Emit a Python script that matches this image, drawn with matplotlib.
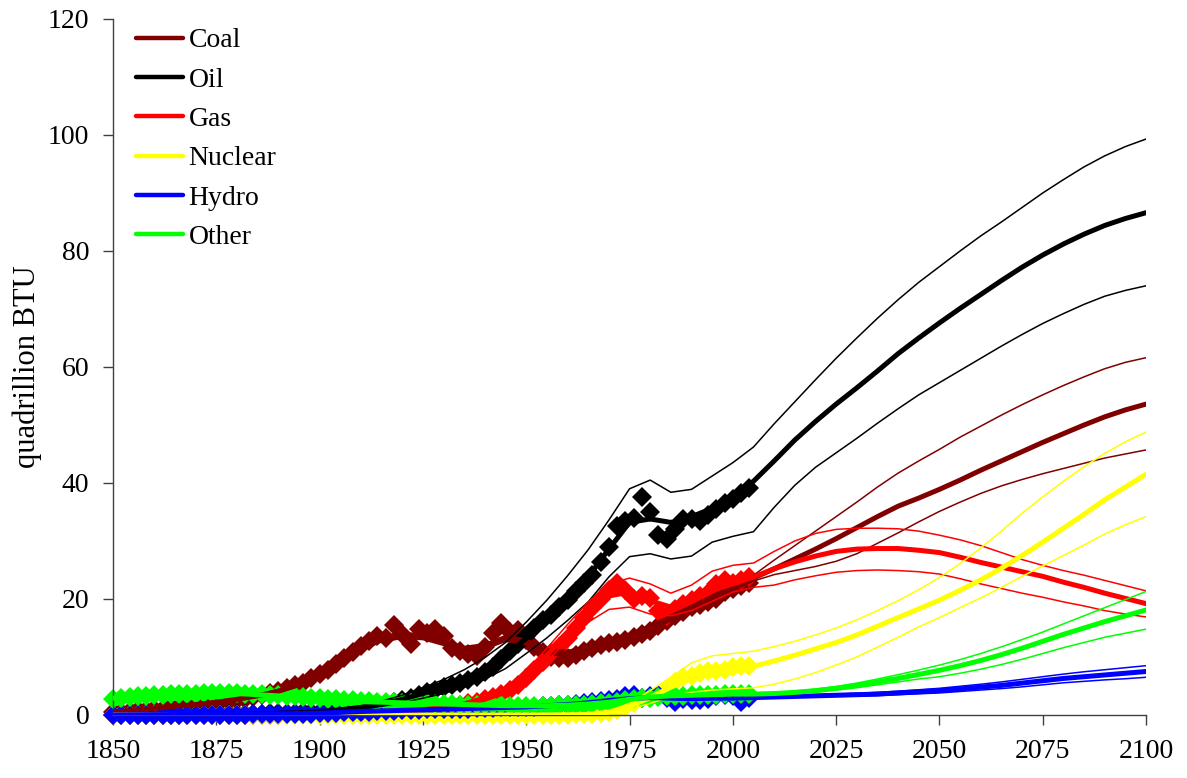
import matplotlib
matplotlib.use("Agg")
import matplotlib.pyplot as plt

plt.rcParams['font.family'] = ['Liberation Serif', 'DejaVu Serif']

# ---------------- data ----------------
model_years = list(range(1850, 2101, 5))
data_years = list(range(1850, 2005, 2))

coal_c = [0.5, 0.8, 1.1, 1.5, 1.8, 2.2, 2.7, 3.3, 4.1, 5.3,
          7.0, 9.3, 11.6, 13.1, 13.7, 13.5, 12.5, 11.3, 11.8, 13.2,
          12.6, 10.9, 10.6, 11.5, 12.5, 13.6, 15.0, 16.7, 18.4, 20.2,
          21.9, 23.6, 25.2, 26.9, 28.6, 30.4, 32.3, 34.2, 36.0, 37.4,
          38.9, 40.5, 42.2, 43.8, 45.4, 47.0, 48.5, 50.0, 51.4, 52.6, 53.6]
coal_h = [0.6, 0.9, 1.2, 1.6, 2.0, 2.4, 2.9, 3.5, 4.4, 5.7,
          7.5, 9.8, 12.1, 13.6, 14.2, 14.0, 13.0, 11.8, 12.3, 13.7,
          13.1, 11.4, 11.1, 12.0, 13.0, 14.1, 15.5, 17.2, 18.9, 20.7,
          22.4, 24.1, 26.7, 29.2, 31.7, 34.2, 36.7, 39.3, 41.7, 43.8,
          45.8, 47.9, 49.8, 51.7, 53.5, 55.2, 56.8, 58.3, 59.7, 60.8, 61.6]
coal_l = [0.4, 0.7, 1.0, 1.4, 1.7, 2.0, 2.5, 3.1, 3.8, 4.9,
          6.5, 8.8, 11.1, 12.6, 13.2, 13.0, 12.0, 10.8, 11.3, 12.7,
          12.1, 10.4, 10.1, 11.0, 12.0, 13.1, 14.5, 16.2, 17.9, 19.7,
          21.4, 23.1, 24.2, 24.9, 25.6, 26.5, 27.8, 29.6, 31.4, 33.3,
          35.1, 36.7, 38.2, 39.5, 40.6, 41.6, 42.5, 43.4, 44.3, 45.0, 45.7]

oil_c = [0.0, 0.0, 0.0, 0.05, 0.1, 0.1, 0.15, 0.2, 0.3, 0.4,
         0.6, 0.9, 1.3, 1.9, 2.7, 3.7, 4.8, 6.2, 8.0, 10.2,
         13.2, 16.4, 20.0, 23.8, 28.6, 33.2, 33.8, 33.2, 34.2, 35.6,
         37.8, 40.3, 43.8, 47.4, 50.6, 53.6, 56.4, 59.3, 62.3, 65.0,
         67.6, 70.1, 72.5, 74.9, 77.2, 79.3, 81.2, 82.9, 84.4, 85.6, 86.6]
oil_h = [0.0, 0.0, 0.0, 0.05, 0.1, 0.1, 0.2, 0.25, 0.35, 0.5,
         0.7, 1.1, 1.6, 2.4, 3.4, 4.7, 6.1, 7.8, 9.9, 12.5,
         16.0, 19.8, 24.0, 28.5, 33.6, 39.0, 40.5, 38.4, 38.9, 41.2,
         43.5, 46.2, 50.2, 54.0, 57.8, 61.5, 65.0, 68.4, 71.6, 74.6,
         77.3, 80.0, 82.6, 85.0, 87.5, 90.0, 92.3, 94.5, 96.4, 98.0, 99.3]
oil_l = [0.0, 0.0, 0.0, 0.05, 0.1, 0.1, 0.1, 0.15, 0.25, 0.3,
         0.5, 0.7, 1.0, 1.5, 2.1, 2.9, 3.7, 4.8, 6.2, 8.0,
         10.6, 13.3, 16.3, 19.5, 23.8, 27.3, 27.8, 26.9, 27.4, 29.8,
         30.8, 31.6, 35.8, 39.6, 42.7, 45.2, 47.7, 50.3, 52.8, 55.2,
         57.3, 59.4, 61.5, 63.6, 65.6, 67.5, 69.2, 70.8, 72.2, 73.2, 74.0]

gas_c = [0, 0, 0, 0, 0, 0, 0, 0, 0.05, 0.1,
         0.15, 0.2, 0.3, 0.45, 0.65, 0.9, 1.3, 1.9, 2.8, 4.2,
         6.6, 10.3, 14.2, 17.8, 20.5, 21.2, 19.7, 18.6, 19.6, 21.5,
         22.6, 23.8, 25.2, 26.4, 27.4, 28.2, 28.6, 28.7, 28.7, 28.4,
         28.0, 27.2, 26.3, 25.5, 24.7, 23.9, 22.9, 22.0, 21.0, 20.1, 19.2]
gas_h = [0, 0, 0, 0, 0, 0, 0, 0, 0.05, 0.1,
         0.2, 0.25, 0.35, 0.5, 0.75, 1.0, 1.5, 2.2, 3.2, 4.8,
         7.5, 11.5, 15.6, 19.5, 22.6, 23.6, 22.6, 21.0, 22.4, 24.8,
         25.8, 26.2, 28.2, 30.0, 31.3, 32.0, 32.2, 32.2, 32.1, 31.7,
         31.0, 30.2, 29.2, 28.0, 26.8, 25.8, 24.9, 24.1, 23.2, 22.3, 21.4]
gas_l = [0, 0, 0, 0, 0, 0, 0, 0, 0.05, 0.1,
         0.1, 0.15, 0.25, 0.4, 0.55, 0.8, 1.1, 1.6, 2.4, 3.6,
         5.8, 9.2, 13.0, 16.0, 18.2, 18.6, 17.4, 17.1, 18.0, 19.6,
         21.2, 22.0, 22.4, 23.3, 24.0, 24.6, 24.9, 25.0, 24.9, 24.7,
         24.3, 23.5, 22.6, 21.8, 21.0, 20.3, 19.5, 18.8, 18.0, 17.4, 16.9]

nuc_c = [0] * 20 + [0, 0, 0.02, 0.1, 0.5, 1.5, 3.0, 4.8, 6.3, 7.3,
                    7.9, 8.4, 9.3, 10.3, 11.4, 12.5, 13.8, 15.3, 16.8, 18.3,
                    19.8, 21.5, 23.3, 25.3, 27.5, 29.8, 32.2, 34.6, 37.1, 39.3, 41.5]
nuc_h = [0] * 20 + [0, 0, 0.05, 0.2, 0.7, 2.0, 4.2, 6.5, 9.0, 10.2,
                    10.6, 11.0, 11.8, 12.7, 13.8, 15.0, 16.4, 18.0, 19.7, 21.6,
                    23.7, 26.1, 28.8, 31.7, 34.8, 37.6, 40.3, 42.8, 45.1, 47.1, 48.8]
nuc_l = [0] * 20 + [0, 0, 0.0, 0.05, 0.3, 1.0, 2.0, 3.2, 3.9, 4.3,
                    4.5, 4.7, 5.3, 6.2, 7.3, 8.6, 10.0, 11.7, 13.4, 15.2,
                    16.8, 18.5, 20.2, 22.0, 23.9, 25.7, 27.5, 29.3, 31.2, 32.8, 34.2]

hyd_c = [0.0, 0.03, 0.05, 0.08, 0.1, 0.13, 0.15, 0.18, 0.2, 0.25,
         0.3, 0.45, 0.6, 0.7, 0.8, 0.9, 1.0, 1.1, 1.2, 1.3,
         1.4, 1.6, 1.8, 2.1, 2.5, 2.8, 3.0, 2.9, 2.8, 2.9,
         2.9, 3.0, 3.1, 3.2, 3.3, 3.4, 3.5, 3.6, 3.8, 4.0,
         4.2, 4.5, 4.8, 5.1, 5.5, 5.9, 6.3, 6.6, 6.9, 7.2, 7.5]
hyd_h = [0.0, 0.05, 0.1, 0.12, 0.15, 0.18, 0.2, 0.23, 0.25, 0.3,
         0.35, 0.5, 0.65, 0.8, 0.9, 1.0, 1.1, 1.2, 1.3, 1.4,
         1.5, 1.7, 1.9, 2.2, 2.6, 2.9, 3.1, 3.0, 2.9, 3.0,
         3.0, 3.1, 3.2, 3.35, 3.5, 3.6, 3.75, 3.9, 4.1, 4.35,
         4.6, 4.95, 5.3, 5.7, 6.15, 6.6, 7.05, 7.45, 7.8, 8.15, 8.5]
hyd_l = [0.0, 0.0, 0.03, 0.05, 0.07, 0.1, 0.12, 0.14, 0.16, 0.2,
         0.25, 0.4, 0.55, 0.6, 0.7, 0.8, 0.9, 1.0, 1.1, 1.2,
         1.3, 1.5, 1.7, 2.0, 2.4, 2.7, 2.9, 2.8, 2.7, 2.8,
         2.8, 2.9, 3.0, 3.05, 3.1, 3.2, 3.25, 3.35, 3.5, 3.65,
         3.8, 4.05, 4.3, 4.55, 4.85, 5.2, 5.55, 5.8, 6.05, 6.25, 6.5]

oth_c = [2.9, 3.2, 3.4, 3.6, 3.7, 3.8, 3.7, 3.5, 3.3, 3.0,
         2.7, 2.5, 2.3, 2.2, 2.1, 2.0, 1.9, 1.8, 1.7, 1.6,
         1.6, 1.6, 1.7, 1.9, 2.2, 2.7, 3.1, 3.3, 3.4, 3.5,
         3.6, 3.6, 3.7, 3.9, 4.2, 4.6, 5.1, 5.7, 6.3, 7.0,
         7.7, 8.5, 9.4, 10.4, 11.5, 12.7, 13.9, 15.0, 16.1, 17.1, 18.1]
oth_h = [3.0, 3.3, 3.5, 3.7, 3.8, 3.9, 3.8, 3.6, 3.4, 3.1,
         2.8, 2.6, 2.4, 2.3, 2.2, 2.1, 2.0, 1.9, 1.8, 1.7,
         1.7, 1.7, 1.8, 2.0, 2.3, 2.8, 3.2, 3.4, 3.5, 3.6,
         3.7, 3.7, 3.85, 4.1, 4.45, 4.9, 5.5, 6.2, 6.95, 7.75,
         8.6, 9.55, 10.6, 11.75, 13.0, 14.3, 15.7, 17.1, 18.5, 19.9, 21.3]
oth_l = [2.8, 3.1, 3.3, 3.5, 3.6, 3.7, 3.6, 3.4, 3.2, 2.9,
         2.6, 2.4, 2.2, 2.1, 2.0, 1.9, 1.8, 1.7, 1.6, 1.5,
         1.5, 1.5, 1.6, 1.8, 2.1, 2.6, 3.0, 3.2, 3.3, 3.4,
         3.5, 3.5, 3.55, 3.7, 3.95, 4.3, 4.7, 5.2, 5.7, 6.2,
         6.6, 7.2, 7.9, 8.7, 9.6, 10.6, 11.6, 12.5, 13.4, 14.1, 14.8]

# historical observations, every 2 years 1850-2004
coal_obs = [0.5, 0.6, 0.7, 0.8, 0.9, 1.0, 1.1, 1.3, 1.4, 1.6, 1.7,
            1.8, 2.0, 2.2, 2.4, 2.6, 2.8, 3.1, 3.4, 3.8, 4.2,
            4.6, 5.1, 5.6, 6.3, 7.1, 7.8, 8.8, 9.8, 10.8, 11.9,
            12.8, 13.6, 13.3, 15.6, 14.0, 12.2, 14.9, 14.2, 14.8, 13.6,
            11.6, 11.0, 10.5, 10.2, 11.8, 14.2, 15.8, 14.3, 14.6, 13.0,
            11.8, 10.8, 10.0, 9.8, 9.9, 10.4, 11.0, 11.6, 12.0, 12.4,
            12.6, 13.0, 13.4, 14.0, 14.5, 15.3, 16.2, 17.0, 17.8, 18.6,
            19.0, 19.5, 20.0, 21.2, 21.8, 22.3, 22.8]
oil_obs = [0, 0, 0, 0, 0, 0.02, 0.05, 0.05, 0.08, 0.1, 0.1,
           0.1, 0.1, 0.12, 0.15, 0.15, 0.2, 0.2, 0.25, 0.3, 0.3,
           0.35, 0.4, 0.45, 0.5, 0.55, 0.65, 0.75, 0.9, 1.0, 1.1,
           1.3, 1.5, 1.8, 2.2, 2.6, 3.0, 3.4, 3.9, 4.3, 4.8,
           5.1, 5.5, 6.0, 6.6, 7.4, 8.2, 9.6, 11.0, 12.2, 13.6,
           15.0, 16.3, 17.2, 18.6, 19.8, 21.4, 22.8, 24.2, 26.4, 29.0,
           32.5, 33.5, 34.0, 37.5, 35.0, 31.0, 30.4, 32.0, 33.8, 33.8,
           33.5, 34.5, 35.5, 36.5, 37.2, 38.2, 39.2]
gas_obs = [0] * 21 + [
           0.1, 0.1, 0.1, 0.1, 0.15, 0.15, 0.2, 0.2, 0.25, 0.3,
           0.35, 0.4, 0.45, 0.5, 0.6, 0.7, 0.8, 0.9, 1.1, 1.3,
           1.5, 1.7, 2.0, 2.3, 2.7, 3.1, 3.7, 4.3, 5.2, 6.3,
           7.8, 9.2, 10.7, 11.8, 13.3, 15.0, 16.8, 18.5, 20.0, 21.5,
           22.8, 21.5, 20.0, 20.5, 20.2, 18.0, 17.0, 18.2, 19.2, 19.8,
           20.5, 21.0, 22.5, 23.2, 22.8, 23.3, 23.8]
nuc_obs = [0] * 54 + [0.02, 0.05, 0.1, 0.15, 0.2, 0.3, 0.5, 0.8, 1.3, 2.0,
                      3.0, 3.0, 3.5, 4.5, 5.7, 6.5, 6.7, 7.2, 7.5, 7.6,
                      7.7, 8.3, 8.4, 8.5]
hyd_obs = [0.0] * 11 + [
           0.0, 0.0, 0.0, 0.0, 0.05, 0.05, 0.1, 0.1, 0.1, 0.15,
           0.15, 0.2, 0.2, 0.25, 0.3, 0.35, 0.4, 0.45, 0.5, 0.55,
           0.6, 0.65, 0.7, 0.75, 0.8, 0.85, 0.9, 0.95, 1.0, 1.0,
           1.05, 1.1, 1.1, 1.15, 1.2, 1.25, 1.3, 1.3, 1.35, 1.4,
           1.45, 1.5, 1.6, 1.7, 1.8, 1.9, 2.0, 2.2, 2.4, 2.6,
           2.8, 3.2, 3.5, 3.0, 3.3, 3.5, 3.0, 2.2, 2.8, 2.5,
           2.6, 2.8, 3.2, 3.5, 3.2, 2.3, 2.9]
oth_obs = [2.8, 2.95, 3.1, 3.2, 3.3, 3.4, 3.5, 3.55, 3.6, 3.65, 3.7,
           3.75, 3.8, 3.8, 3.8, 3.75, 3.7, 3.65, 3.6, 3.5, 3.4,
           3.3, 3.2, 3.1, 3.0, 2.9, 2.8, 2.7, 2.6, 2.5, 2.4,
           2.35, 2.3, 2.25, 2.2, 2.15, 2.1, 2.05, 2.0, 1.95, 1.9,
           1.85, 1.8, 1.8, 1.75, 1.7, 1.7, 1.65, 1.6, 1.6, 1.6,
           1.6, 1.6, 1.6, 1.65, 1.7, 1.75, 1.8, 1.9, 2.0, 2.1,
           2.3, 2.5, 2.7, 2.9, 3.0, 3.1, 3.2, 3.3, 3.3, 3.4,
           3.5, 3.5, 3.5, 3.6, 3.6, 3.6, 3.6]

labels = ["Coal", "Oil", "Gas", "Nuclear", "Hydro", "Other"]
colors = ["#800000", "#000000", "#FF0000", "#FFFF00", "#0000FF", "#00FF00"]
centers = [coal_c, oil_c, gas_c, nuc_c, hyd_c, oth_c]
highs = [coal_h, oil_h, gas_h, nuc_h, hyd_h, oth_h]
lows = [coal_l, oil_l, gas_l, nuc_l, hyd_l, oth_l]
obs = [coal_obs, oil_obs, gas_obs, nuc_obs, hyd_obs, oth_obs]

# ---------------- plot ----------------
fig = plt.figure(figsize=(11.87, 7.78), dpi=100)
ax = fig.add_axes([0.0952, 0.081, 0.8703, 0.8946])

for lab, col, c, h, l, o in zip(labels, colors, centers, highs, lows, obs):
    ax.plot(data_years, o, linestyle='none', marker='D', markersize=10,
            color=col, markeredgewidth=0, clip_on=False, zorder=2)
    ax.plot(model_years, h, color=col, lw=1.1, zorder=3)
    ax.plot(model_years, l, color=col, lw=1.1, zorder=3)
    ax.plot(model_years, c, color=col, lw=3.6, zorder=3,
            solid_capstyle='round', solid_joinstyle='round', label=lab)

ax.set_xlim(1850, 2100)
ax.set_ylim(0, 120)
ax.set_xticks(range(1850, 2101, 25))
ax.set_yticks(range(0, 121, 20))
ax.spines['top'].set_visible(False)
ax.spines['right'].set_visible(False)
for s in ('left', 'bottom'):
    ax.spines[s].set_color('#404040')
    ax.spines[s].set_linewidth(1.0)
ax.tick_params(direction='out', length=7, width=1.0, color='#404040',
               labelsize=20, pad=10)
ax.set_ylabel("quadrillion BTU", fontsize=22, labelpad=4)

leg = ax.legend(loc='upper left', bbox_to_anchor=(0.022, 0.987), frameon=False,
                fontsize=20, handlelength=1.7, handletextpad=0.2,
                labelspacing=0.5, borderpad=0, borderaxespad=0)
for line in leg.get_lines():
    line.set_linewidth(3.2)

fig.savefig("out.png", dpi=100)
